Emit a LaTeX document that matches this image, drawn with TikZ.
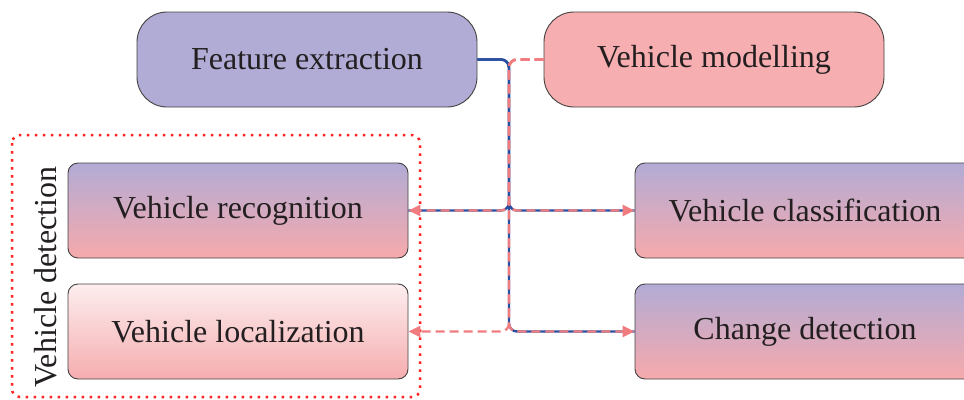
\documentclass[tikz,border=0pt]{standalone}
\usepackage{fontspec}
\setmainfont{Liberation Serif}
\usetikzlibrary{arrows.meta}
\definecolor{lav}{HTML}{B0ACD6}
\definecolor{rose}{HTML}{F7AEB0}
\definecolor{gtop}{HTML}{B2ABD5}
\definecolor{gmid}{HTML}{D0A9CF}
\definecolor{gbot}{HTML}{F6AAAC}
\definecolor{ltop}{HTML}{FDEEEF}
\definecolor{lbot}{HTML}{F5ADAF}
\definecolor{busblue}{HTML}{2A4FA0}
\definecolor{buspink}{HTML}{F07C80}
\definecolor{framered}{HTML}{FF2222}
\definecolor{ink}{HTML}{231F20}
\tikzset{
  box/.style={draw=ink!85, line width=0.9pt, inner sep=0pt,
    minimum width=340pt, minimum height=95pt, text=ink,
    font=\fontsize{32}{38}\selectfont},
  topbox/.style={box, rounded corners=30pt},
  lowbox/.style={box, rounded corners=10pt},
  grad/.style={top color=gtop, middle color=gmid, bottom color=gbot},
  fadegrad/.style={top color=ltop, bottom color=lbot},
  blueline/.style={draw=busblue, line width=2.4pt, rounded corners=8pt},
  pinkline/.style={draw=buspink, line width=2.4pt, dash pattern=on 9pt off 5pt,
    rounded corners=8pt},
  pinkarrow/.style={pinkline, -{Triangle[length=12pt,width=11pt,fill=buspink]}},
}
\begin{document}
\begin{tikzpicture}[x=1pt,y=-1pt]
  \useasboundingbox (0,0) rectangle (964,399);

  % upper source blocks
  \node[topbox, fill=lav]  (fe) at (307,59.5) {Feature extraction};
  \node[topbox, fill=rose] (vm) at (714,59.5) {Vehicle modelling};

  % target blocks
  \node[lowbox, grad]     (vr) at (238,210.5) {Vehicle recognition};
  \node[lowbox, fadegrad] (vl) at (238,331.5) {Vehicle localization};
  \node[lowbox, grad]     (vc) at (805,210.5) {Vehicle classification};
  \node[lowbox, grad]     (cd) at (805,331.5) {Change detection};

  % detection group frame and its label
  \draw[framered, line width=2.5pt, dash pattern=on 2.5pt off 5.5pt, rounded corners=8pt]
    (12,135) rectangle (420,397);
  \node[rotate=90, text=ink, font=\fontsize{32}{38}\selectfont, inner sep=0pt]
    (vd) at (46,277) {Vehicle detection};

  % vertical bus shared by all connectors
  \coordinate (bus) at (509,0);

  % feature extraction links (solid blue)
  \draw[blueline] (fe.east) -| (bus |- vr.east) -- (vr.east);
  \draw[blueline] (fe.east) -| (bus |- vc.west) -- (vc.west);
  \draw[blueline] (fe.east) -| (bus |- cd.west) -- (cd.west);

  % vehicle modelling links (dashed pink)
  \draw[pinkarrow] (vm.west) -| (bus |- vr.east) -- (vr.east);
  \draw[pinkarrow] (vm.west) -| (bus |- vl.east) -- (vl.east);
  \draw[pinkarrow] (vm.west) -| (bus |- vc.west) -- (vc.west);
  \draw[pinkarrow] (vm.west) -| (bus |- cd.west) -- (cd.west);
\end{tikzpicture}
\end{document}
